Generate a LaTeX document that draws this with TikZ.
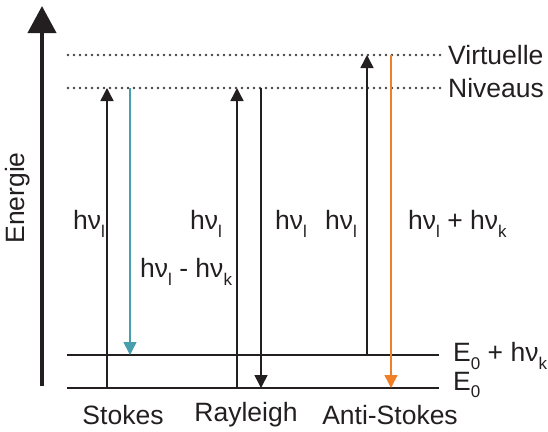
\documentclass[tikz,border=0pt]{standalone}
\usepackage{fontspec}
\setmainfont{Liberation Sans}
\usetikzlibrary{arrows.meta}
\definecolor{inkc}{RGB}{35,31,32}
\definecolor{stokesc}{RGB}{72,158,172}
\definecolor{antic}{RGB}{240,128,40}
\newcommand\lsub[1]{\raisebox{-0.28em}{\fontsize{17}{17}\selectfont #1}}
\newcommand\hnu[1]{hν\lsub{#1}}
\begin{document}
\begin{tikzpicture}[x=1pt,y=-1pt,
  txt/.style={inner sep=0pt,text=inkc,font=\fontsize{26.5}{31}\selectfont},
  level/.style={draw=inkc,line width=1.6pt},
  virt/.style={draw=inkc!85,line width=2.6pt,line cap=round,dash pattern=on 0pt off 6pt},
  trans/.style={line width=1.5pt,-{Triangle[length=13pt,width=13pt]}},
  axis/.style={draw=inkc,line width=4pt,-{Triangle[length=27pt,width=28pt]}}]
\useasboundingbox (0,0) rectangle (548,431);

% energy axis
\coordinate (ax0) at (42,386);
\coordinate (ax1) at (42,6);
\draw[axis] (ax0) -- (ax1);
\node[txt,rotate=90] (energie) at (18,198) {Energie};

% virtual levels (dotted)
\coordinate (v1a) at (68,55);  \coordinate (v1b) at (440,55);
\coordinate (v2a) at (68,88);  \coordinate (v2b) at (440,88);
\draw[virt] (v1a) -- (v1b);
\draw[virt] (v2a) -- (v2b);

% vibrational levels
\coordinate (e1a) at (67,355); \coordinate (e1b) at (439,355);
\coordinate (e0a) at (67,388); \coordinate (e0b) at (439,388);
\draw[level] (e1a) -- (e1b);
\draw[level] (e0a) -- (e0b);

% level labels
\node[txt,anchor=west] (virtuelle) at (448,55) {Virtuelle};
\node[txt,anchor=west] (niveaus) at (448,88) {Niveaus};
\node[txt,anchor=west] (le1) at (453,356) {E\lsub{0} + \hnu{k}};
\node[txt,anchor=west] (le0) at (453,385) {E\lsub{0}};

% Stokes
\coordinate (sUa) at (107,388); \coordinate (sUb) at (107,88);
\coordinate (sDa) at (130,88);  \coordinate (sDb) at (130,355);
\draw[trans,draw=inkc,fill=inkc] (sUa) -- (sUb);
\draw[trans,draw=stokesc,fill=stokesc] (sDa) -- (sDb);

% Rayleigh
\coordinate (rUa) at (237,388); \coordinate (rUb) at (237,88);
\coordinate (rDa) at (261,88);  \coordinate (rDb) at (261,388);
\draw[trans,draw=inkc,fill=inkc] (rUa) -- (rUb);
\draw[trans,draw=inkc,fill=inkc] (rDa) -- (rDb);

% Anti-Stokes
\coordinate (aUa) at (367,355); \coordinate (aUb) at (367,55);
\coordinate (aDa) at (391,55);  \coordinate (aDb) at (391,388);
\draw[trans,draw=inkc,fill=inkc] (aUa) -- (aUb);
\draw[trans,draw=antic,fill=antic] (aDa) -- (aDb);

% photon energies
\node[txt,anchor=west] (l1) at (73,224) {\hnu{l}};
\node[txt,anchor=west] (l2) at (190,224) {\hnu{l}};
\node[txt,anchor=west] (l3) at (275,224) {\hnu{l}};
\node[txt,anchor=west] (l4) at (325,224) {\hnu{l}};
\node[txt,anchor=west] (l5) at (408,224) {\hnu{l} + \hnu{k}};
\node[txt,anchor=west] (l6) at (140,272) {\hnu{l} - \hnu{k}};

% process names
\node[txt] (stokes) at (123,415) {Stokes};
\node[txt] (rayleigh) at (246,415) {Rayleigh};
\node[txt] (anti) at (390,415) {Anti-Stokes};
\end{tikzpicture}
\end{document}
